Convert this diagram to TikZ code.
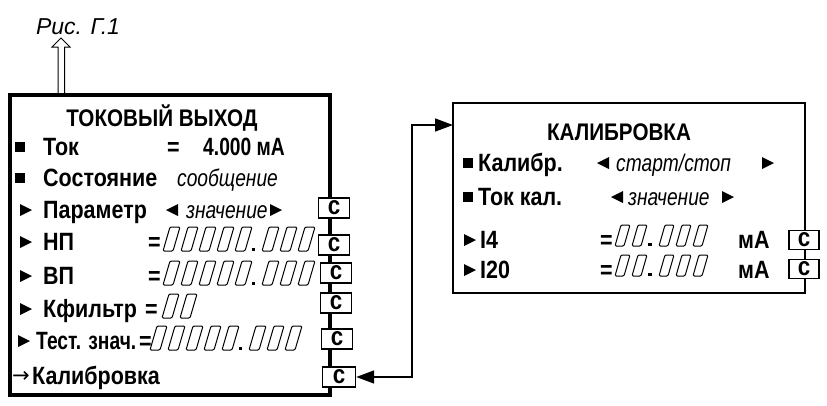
\documentclass[tikz,border=0pt]{standalone}
\usepackage{fontspec}
\setmainfont{Liberation Sans}
\newfontfamily\narrowsans{Liberation Sans}[FakeStretch=0.86]
\newfontfamily\tightsans{Liberation Sans}[FakeStretch=0.77]
\newfontfamily\slantsans{Liberation Sans}[FakeStretch=0.80]
\newfontfamily\symsans{DejaVu Sans}
\usetikzlibrary{arrows.meta}

% one slanted LCD cell; \lcdW, \lcdH, \lcdS give its width, height and slant
\newcommand{\lcdcell}[2]{%
  \draw[lcd] ({#1},{#2}) -- ++(\lcdW,0) -- ++(\lcdS,-\lcdH) -- ++(-\lcdW,0) -- cycle;}
% #1,#2 lower left of the first cell; #3 integer cells, #4 fraction cells;
% \lcdP is the pitch, \lcdD the extra room for the decimal point
\newcommand{\lcdnum}[4]{%
  \foreach \k in {1,...,#3} {\lcdcell{#1+(\k-1)*\lcdP}{#2}}%
  \ifnum#4>0
    \fill ({#1+(#3-1)*\lcdP+\lcdW+0.5*(\lcdP-\lcdW+\lcdD)-1.75},{#2}) rectangle ++(3.5,-3.5);
    \foreach \k in {1,...,#4} {\lcdcell{#1+(#3+\k-1)*\lcdP+\lcdD}{#2}}%
  \fi}
% small marks in front of the menu lines
\newcommand{\sqmark}[2]{\fill ({#1-5},{#2-5}) rectangle ({#1+5},{#2+5});}
\newcommand{\rtmark}[2]{\fill ({#1-6},{#2-6}) -- ({#1+6},{#2}) -- ({#1-6},{#2+6}) -- cycle;}
\newcommand{\ltmark}[2]{\fill ({#1+6},{#2-6}) -- ({#1-6},{#2}) -- ({#1+6},{#2+6}) -- cycle;}

\tikzset{
  lbl/.style={anchor=base west, inner sep=0pt,
    font=\narrowsans\bfseries\fontsize{25}{28}\selectfont},
  tightlbl/.style={lbl, font=\tightsans\bfseries\fontsize{25}{28}\selectfont},
  ital/.style={anchor=base west, inner sep=0pt,
    font=\slantsans\itshape\fontsize{24}{28}\selectfont},
  head/.style={anchor=base, inner sep=0pt,
    font=\narrowsans\bfseries\fontsize{24}{28}\selectfont},
  panel/.style={draw, line width=3.8pt, inner sep=0pt},
  key/.style={draw, fill=white, line width=1.4pt, inner sep=0pt,
    minimum width=31, minimum height=20,
    font=\narrowsans\bfseries\fontsize{26}{26}\selectfont},
  lcd/.style={line width=1pt, rounded corners=1.2pt},
  link/.style={line width=1.5pt,
    {Triangle[length=18pt,width=13pt]}-{Triangle[length=18pt,width=13pt]}},
  hollow/.style={line width=1pt, fill=white}
}

\begin{document}
\begin{tikzpicture}[x=1pt, y=-1pt]
  \fill[white] (0,0) rectangle (827,405);
  \useasboundingbox (0,0) rectangle (827,405);

  % reference to the previous figure
  \node[inner sep=0pt, font=\itshape\fontsize{23}{26}\selectfont] (fig) at (78,27) {Рис. Г.1};
  \draw[hollow] (58,96) -- (58,47) -- (52,47) -- (61,38) -- (70,47) -- (64.5,47) -- (64.5,96);

  % current output menu
  \node[panel, minimum width=320, minimum height=300] (tok) at (170,245) {};
  \node[head] (tokhead) at (162,126) {ТОКОВЫЙ ВЫХОД};

  \sqmark{20}{147}
  \node[lbl] (tokl) at (43,155) {Ток};
  \node[lbl] (tokeq) at (167,155) {=};
  \node[tightlbl] (tokv) at (203,155) {4.000 мА};

  \sqmark{20}{178}
  \node[lbl] (statl) at (43,186) {Состояние};
  \node[ital] (statv) at (177,186) {сообщение};

  \rtmark{26}{210}
  \node[lbl] (parl) at (43,218) {Параметр};
  \ltmark{172}{210}
  \node[ital] (parv) at (186,218) {значение};
  \rtmark{276}{210}

  \def\lcdW{10} \def\lcdH{24} \def\lcdS{7} \def\lcdP{18} \def\lcdD{9}
  \rtmark{26}{242}
  \node[lbl] (npl) at (43,250) {НП};
  \node[lbl] (npeq) at (148,250) {=};
  \lcdnum{163}{251}{5}{3}

  \rtmark{26}{276}
  \node[lbl] (vpl) at (43,284) {ВП};
  \node[lbl] (vpeq) at (148,284) {=};
  \lcdnum{163}{285}{5}{3}

  \rtmark{26}{309}
  \node[lbl] (kfl) at (43,317) {Кфильтр};
  \node[lbl] (kfeq) at (145,317) {=};
  \lcdnum{162}{318}{2}{0}

  \rtmark{24}{341}
  \node[tightlbl] (testl) at (36,349) {Тест. знач.};
  \node[lbl] (testeq) at (139,349) {=};
  \lcdnum{150}{350}{5}{3}

  \node[anchor=base west, inner sep=0pt, font=\symsans\fontsize{21}{24}\selectfont] (calarr) at (12,382) {→};
  \node[lbl] (call) at (32,384) {Калибровка};

  \node[key] (kpar) at (334,208) {c};
  \node[key] (knp) at (334,245) {c};
  \node[key] (kvp) at (336,273) {c};
  \node[key] (kkf) at (336,303) {c};
  \node[key] (ktest) at (337,339) {c};
  \node[key, minimum width=33] (kcal) at (339,377) {c};

  % calibration menu
  \node[panel, line width=2.6pt, minimum width=352, minimum height=190] (cal) at (629,198) {};
  \node[head] (calhead) at (619,140) {КАЛИБРОВКА};

  \sqmark{468}{163}
  \node[lbl] (cmodel) at (478,171) {Калибр.};
  \ltmark{603}{163}
  \node[ital] (cmodev) at (616,171) {старт/стоп};
  \rtmark{768}{163}

  \sqmark{468}{197}
  \node[lbl] (ccurl) at (478,205) {Ток кал.};
  \ltmark{617}{197}
  \node[ital] (ccurv) at (628,205) {значение};
  \rtmark{728}{197}

  \def\lcdW{9} \def\lcdH{21} \def\lcdS{6} \def\lcdP{17} \def\lcdD{10}
  \rtmark{470}{240}
  \node[lbl] (ifourl) at (480,248) {I4};
  \node[lbl] (ifoureq) at (600,248) {=};
  \lcdnum{615}{246}{2}{3}
  \node[lbl] (ifouru) at (738,248) {мА};

  \rtmark{470}{270}
  \node[lbl] (itwl) at (480,278) {I20};
  \node[lbl] (itweq) at (600,278) {=};
  \lcdnum{615}{276}{2}{3}
  \node[lbl] (itwu) at (738,278) {мА};

  \node[key, minimum width=30, minimum height=19] (kfour) at (804,240) {c};
  \node[key, minimum width=30, minimum height=19] (ktw) at (804,269) {c};

  % link between the two menus
  \coordinate (bend) at (412,125);
  \coordinate (calin) at (453,125);
  \draw[link] (kcal.east) -| (bend) -- (calin);
\end{tikzpicture}
\end{document}
